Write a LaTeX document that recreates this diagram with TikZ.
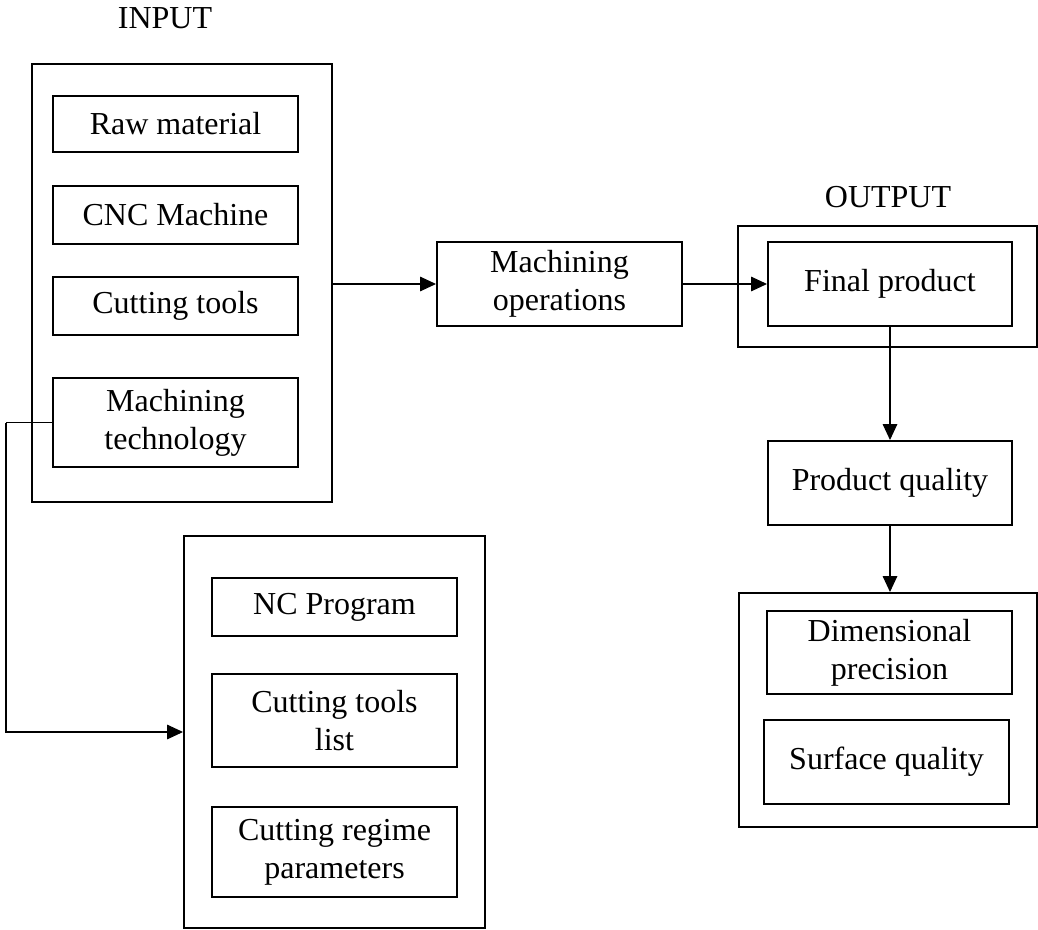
\documentclass[tikz,border=0pt]{standalone}
\usepackage{fontspec}
\setmainfont{Liberation Serif}
\usetikzlibrary{arrows.meta}
\begin{document}
\begin{tikzpicture}[x=0.75pt,y=-0.75pt,
  font=\fontsize{24}{28.5}\selectfont,
  frame/.style={draw,line width=1.5pt,inner sep=0pt,align=center},
  item/.style={frame,minimum width=183.75pt},
  twoline/.style={execute at begin node={\rule{0pt}{23pt}}},
  link/.style={line width=0.8pt,-{Triangle[length=12pt,width=11pt]}},
  wire/.style={line width=0.8pt}]
\useasboundingbox (0,0) rectangle (1038,930);

% input group
\node (inlabel) at (165,18) {INPUT};
\node[frame,minimum width=225pt,minimum height=328.5pt] (inbox) at (182,283) {};
\node[item,minimum height=42pt] (raw) at (175.5,124) {Raw material};
\node[item,minimum height=43.5pt] (cnc) at (175.5,215) {CNC Machine};
\node[item,minimum height=43.5pt] (cut) at (175.5,306) {Cutting tools};
\node[item,twoline,minimum height=66.75pt] (tech) at (175.5,422.5) {Machining\\technology};

% process
\node[item,twoline,minimum height=63pt] (ops) at (559.5,284) {Machining\\operations};

% output group
\node (outlabel) at (888,197) {OUTPUT};
\node[frame,minimum width=224.25pt,minimum height=90.75pt] (outbox) at (887.5,286.5) {};
\node[frame,minimum width=183pt,minimum height=63pt] (final) at (890,284) {Final product};
\node[frame,minimum width=183pt,minimum height=63pt] (pq) at (890,483) {Product quality};

% quality group
\node[frame,minimum width=223.5pt,minimum height=175.5pt] (qbox) at (888,710) {};
\node[item,twoline,minimum height=62.25pt] (dim) at (889.5,652.5) {Dimensional\\precision};
\node[item,minimum height=63pt] (surf) at (886.5,762) {Surface quality};

% technology documents
\node[frame,minimum width=225.75pt,minimum height=294pt] (docbox) at (334.5,732) {};
\node[item,minimum height=43.5pt] (nc) at (334.5,607) {NC Program};
\node[item,twoline,minimum height=69.75pt] (ctl) at (334.5,720.5) {Cutting tools\\list};
\node[item,twoline,minimum height=67.5pt] (crp) at (334.5,852) {Cutting regime\\parameters};

% connectors
\draw[link] (ops.west -| inbox.east) -- (ops.west);
\draw[link] (ops.east) -- (ops.east -| final.west);
\draw[link] (final.south) -- (pq.north);
\draw[link] (pq.south) -- (pq.south |- qbox.north);
\coordinate (bend) at (6,422.5);
\draw[wire] (tech.west) -- (bend);
\draw[link] (bend) |- (docbox.west);
\end{tikzpicture}
\end{document}
